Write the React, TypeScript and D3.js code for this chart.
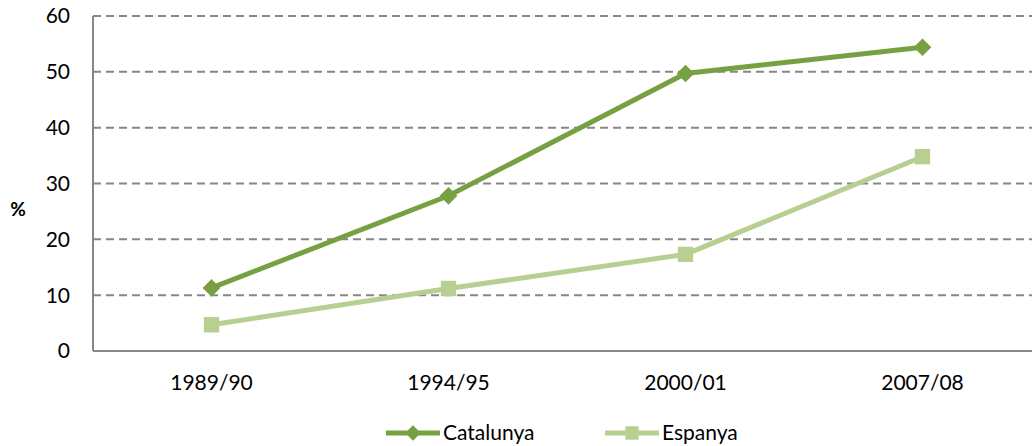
import React, { useEffect, useRef } from 'react';
import * as d3 from 'd3';

const periods = ['1989/90', '1994/95', '2000/01', '2007/08'];
const catalunya = [11.3, 27.8, 49.7, 54.4];
const espanya = [4.7, 11.2, 17.3, 34.8];
const yTicks = [0, 10, 20, 30, 40, 50, 60];

const colCat = '#77a043';
const colEsp = '#b7cf91';
const gridCol = '#878787';
const font = 'Lato, "Open Sans", sans-serif';

export default function App() {
  const svgRef = useRef<SVGSVGElement>(null);

  useEffect(() => {
    const width = 1032;
    const height = 446;
    const svg = d3.select(svgRef.current)
      .attr('width', width)
      .attr('height', height)
      .style('display', 'block')
      .style('font-family', font);
    svg.selectAll('*').remove();

    const left = 93, top = 16, bottom = 351;
    const x = d3.scaleBand().domain(periods).range([left, left + 948]);
    const y = d3.scaleLinear().domain([0, 60]).range([bottom, top]);
    const cx = (p: string) => x(p)! + x.bandwidth() / 2;

    // grid
    svg.append('g')
      .selectAll('line')
      .data(yTicks.filter(t => t > 0))
      .join('line')
      .attr('x1', left).attr('x2', width)
      .attr('y1', d => y(d)).attr('y2', d => y(d))
      .attr('stroke', gridCol)
      .attr('stroke-width', 2)
      .attr('stroke-dasharray', '8,5');

    // axes
    svg.append('line')
      .attr('x1', left).attr('x2', left)
      .attr('y1', top).attr('y2', bottom)
      .attr('stroke', gridCol).attr('stroke-width', 2);
    svg.append('line')
      .attr('x1', left).attr('x2', width)
      .attr('y1', bottom).attr('y2', bottom)
      .attr('stroke', gridCol).attr('stroke-width', 2);

    svg.append('g')
      .selectAll('text')
      .data(yTicks)
      .join('text')
      .attr('x', 70)
      .attr('y', d => y(d))
      .attr('dy', '0.35em')
      .attr('text-anchor', 'end')
      .attr('font-size', 21)
      .attr('fill', '#000')
      .text(d => d);

    svg.append('g')
      .selectAll('text')
      .data(periods)
      .join('text')
      .attr('x', d => cx(d))
      .attr('y', 390)
      .attr('text-anchor', 'middle')
      .attr('font-size', 21)
      .attr('fill', '#000')
      .text(d => d);

    svg.append('text')
      .attr('x', 18).attr('y', 209)
      .attr('dy', '0.35em')
      .attr('text-anchor', 'middle')
      .attr('font-size', 19)
      .attr('font-weight', 'bold')
      .text('%');

    const line = d3.line<number>()
      .x((_, i) => cx(periods[i]))
      .y(d => y(d));

    const diamond = d3.symbol(d3.symbolDiamond2, 200);
    const square = d3.symbol(d3.symbolSquare2, 300);

    svg.append('path')
      .attr('d', line(espanya))
      .attr('fill', 'none')
      .attr('stroke', colEsp)
      .attr('stroke-width', 5);
    svg.append('g')
      .selectAll('path')
      .data(espanya)
      .join('path')
      .attr('transform', (d, i) => `translate(${cx(periods[i])},${y(d)})`)
      .attr('d', square()!)
      .attr('fill', colEsp);

    svg.append('path')
      .attr('d', line(catalunya))
      .attr('fill', 'none')
      .attr('stroke', colCat)
      .attr('stroke-width', 5);
    svg.append('g')
      .selectAll('path')
      .data(catalunya)
      .join('path')
      .attr('transform', (d, i) => `translate(${cx(periods[i])},${y(d)})`)
      .attr('d', diamond()!)
      .attr('fill', colCat);

    // legend
    const legend = [
      { name: 'Catalunya', color: colCat, sym: d3.symbol(d3.symbolDiamond2, 150), x0: 386 },
      { name: 'Espanya', color: colEsp, sym: d3.symbol(d3.symbolSquare2, 230), x0: 605 },
    ];
    const ly = 433;
    const lg = svg.append('g').selectAll('g').data(legend).join('g');
    lg.append('line')
      .attr('x1', d => d.x0).attr('x2', d => d.x0 + 54)
      .attr('y1', ly).attr('y2', ly)
      .attr('stroke', d => d.color).attr('stroke-width', 5);
    lg.append('path')
      .attr('transform', d => `translate(${d.x0 + 27},${ly})`)
      .attr('d', d => d.sym()!)
      .attr('fill', d => d.color);
    lg.append('text')
      .attr('x', d => d.x0 + 57)
      .attr('y', ly)
      .attr('dy', '0.35em')
      .attr('font-size', 21)
      .text(d => d.name);
  }, []);

  return <svg ref={svgRef} style={{ position: 'absolute', left: 0, top: 0 }} />;
}
